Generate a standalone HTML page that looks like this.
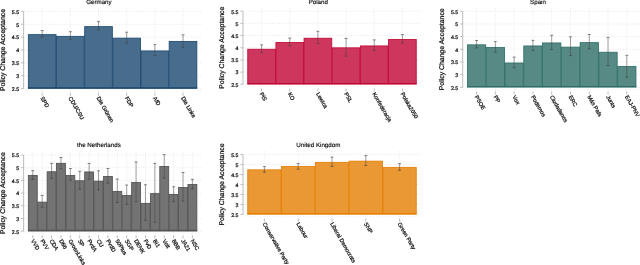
<!DOCTYPE html>
<html lang="en"><head><meta charset="utf-8"><title>Policy Change Acceptance</title>
<style>
html,body{margin:0;padding:0;background:#fff;}
body{width:640px;height:265px;overflow:hidden;}
svg{display:block;}
text{font-family:"Liberation Sans", sans-serif;fill:#000;text-rendering:geometricPrecision;stroke:#000;stroke-width:0.2px;}
</style></head><body>
<svg width="640" height="265" viewBox="0 0 640 265">
<defs><filter id="soft" filterUnits="userSpaceOnUse" x="0" y="0" width="640" height="265" color-interpolation-filters="sRGB"><feConvolveMatrix order="3" kernelMatrix="0.00027 0.01580 0.00027 0.01580 0.93575 0.01580 0.00027 0.01580 0.00027" divisor="1" edgeMode="duplicate" preserveAlpha="false"/></filter></defs>
<g filter="url(#soft)">
<rect x="0" y="0" width="640" height="265" fill="#ffffff"/>
<g><!-- Germany -->
<line x1="24.10" y1="11.40" x2="201.20" y2="11.40" stroke="#d9d9d9" stroke-width="0.7" stroke-dasharray="0.8 1.58"/>
<line x1="24.10" y1="24.27" x2="201.20" y2="24.27" stroke="#d9d9d9" stroke-width="0.7" stroke-dasharray="0.8 1.58"/>
<line x1="24.10" y1="37.13" x2="201.20" y2="37.13" stroke="#d9d9d9" stroke-width="0.7" stroke-dasharray="0.8 1.58"/>
<line x1="24.10" y1="50.00" x2="201.20" y2="50.00" stroke="#d9d9d9" stroke-width="0.7" stroke-dasharray="0.8 1.58"/>
<line x1="24.10" y1="62.87" x2="201.20" y2="62.87" stroke="#d9d9d9" stroke-width="0.7" stroke-dasharray="0.8 1.58"/>
<line x1="24.10" y1="75.73" x2="201.20" y2="75.73" stroke="#d9d9d9" stroke-width="0.7" stroke-dasharray="0.8 1.58"/>
<line x1="24.10" y1="88.60" x2="201.20" y2="88.60" stroke="#d9d9d9" stroke-width="0.7" stroke-dasharray="0.8 1.58"/>
<line x1="42.18" y1="8.10" x2="42.18" y2="91.90" stroke="#d9d9d9" stroke-width="0.7" stroke-dasharray="0.8 1.58"/>
<line x1="70.35" y1="8.10" x2="70.35" y2="91.90" stroke="#d9d9d9" stroke-width="0.7" stroke-dasharray="0.8 1.58"/>
<line x1="98.52" y1="8.10" x2="98.52" y2="91.90" stroke="#d9d9d9" stroke-width="0.7" stroke-dasharray="0.8 1.58"/>
<line x1="126.68" y1="8.10" x2="126.68" y2="91.90" stroke="#d9d9d9" stroke-width="0.7" stroke-dasharray="0.8 1.58"/>
<line x1="154.85" y1="8.10" x2="154.85" y2="91.90" stroke="#d9d9d9" stroke-width="0.7" stroke-dasharray="0.8 1.58"/>
<line x1="183.02" y1="8.10" x2="183.02" y2="91.90" stroke="#d9d9d9" stroke-width="0.7" stroke-dasharray="0.8 1.58"/>
<line x1="24.10" y1="90.70" x2="201.20" y2="90.70" stroke="#e6e6e6" stroke-width="0.7" stroke-dasharray="0.8 1.58"/>
<rect x="28.35" y="34.65" width="27.67" height="53.65" fill="#486c8c" stroke="#1a476f" stroke-width="0.85"/>
<rect x="56.52" y="36.35" width="27.67" height="51.95" fill="#486c8c" stroke="#1a476f" stroke-width="0.85"/>
<rect x="84.68" y="26.65" width="27.67" height="61.65" fill="#486c8c" stroke="#1a476f" stroke-width="0.85"/>
<rect x="112.85" y="38.15" width="27.67" height="50.15" fill="#486c8c" stroke="#1a476f" stroke-width="0.85"/>
<rect x="141.02" y="50.95" width="27.67" height="37.35" fill="#486c8c" stroke="#1a476f" stroke-width="0.85"/>
<rect x="169.18" y="41.45" width="27.67" height="46.85" fill="#486c8c" stroke="#1a476f" stroke-width="0.85"/>
<path d="M28.00 87.90H197.20" stroke="#1a476f" stroke-width="1.3" fill="none"/>
<path d="M42.18 30.60V37.10" stroke="#404040" stroke-width="0.5" fill="none"/>
<path d="M40.73 30.60H43.63M40.73 37.10H43.63" stroke="#404040" stroke-width="0.65" fill="none"/>
<path d="M70.35 31.70V39.40" stroke="#404040" stroke-width="0.5" fill="none"/>
<path d="M68.90 31.70H71.80M68.90 39.40H71.80" stroke="#404040" stroke-width="0.65" fill="none"/>
<path d="M98.52 21.60V29.90" stroke="#404040" stroke-width="0.5" fill="none"/>
<path d="M97.07 21.60H99.97M97.07 29.90H99.97" stroke="#404040" stroke-width="0.65" fill="none"/>
<path d="M126.68 32.20V43.00" stroke="#404040" stroke-width="0.5" fill="none"/>
<path d="M125.23 32.20H128.13M125.23 43.00H128.13" stroke="#404040" stroke-width="0.65" fill="none"/>
<path d="M154.85 44.60V55.70" stroke="#404040" stroke-width="0.5" fill="none"/>
<path d="M153.40 44.60H156.30M153.40 55.70H156.30" stroke="#404040" stroke-width="0.65" fill="none"/>
<path d="M183.02 34.90V47.40" stroke="#404040" stroke-width="0.5" fill="none"/>
<path d="M181.57 34.90H184.47M181.57 47.40H184.47" stroke="#404040" stroke-width="0.65" fill="none"/>
<line x1="23.60" y1="11.40" x2="23.60" y2="88.60" stroke="#b4b4b4" stroke-width="0.9"/>
<line x1="21.00" y1="11.40" x2="23.60" y2="11.40" stroke="#b4b4b4" stroke-width="0.9"/>
<text x="19.10" y="13.75" font-size="5.25" text-anchor="end">5.5</text>
<line x1="21.00" y1="24.27" x2="23.60" y2="24.27" stroke="#b4b4b4" stroke-width="0.9"/>
<text x="19.10" y="26.62" font-size="5.25" text-anchor="end">5</text>
<line x1="21.00" y1="37.13" x2="23.60" y2="37.13" stroke="#b4b4b4" stroke-width="0.9"/>
<text x="19.10" y="39.48" font-size="5.25" text-anchor="end">4.5</text>
<line x1="21.00" y1="50.00" x2="23.60" y2="50.00" stroke="#b4b4b4" stroke-width="0.9"/>
<text x="19.10" y="52.35" font-size="5.25" text-anchor="end">4</text>
<line x1="21.00" y1="62.87" x2="23.60" y2="62.87" stroke="#b4b4b4" stroke-width="0.9"/>
<text x="19.10" y="65.22" font-size="5.25" text-anchor="end">3.5</text>
<line x1="21.00" y1="75.73" x2="23.60" y2="75.73" stroke="#b4b4b4" stroke-width="0.9"/>
<text x="19.10" y="78.08" font-size="5.25" text-anchor="end">3</text>
<line x1="21.00" y1="88.60" x2="23.60" y2="88.60" stroke="#b4b4b4" stroke-width="0.9"/>
<text x="19.10" y="90.95" font-size="5.25" text-anchor="end">2.5</text>
<line x1="42.18" y1="92.70" x2="42.18" y2="95.80" stroke="#b4b4b4" stroke-width="0.9"/>
<text transform="translate(41.88 97.05) rotate(60)" x="0" y="1.95" font-size="5.6">SPD</text>
<line x1="70.35" y1="92.70" x2="70.35" y2="95.80" stroke="#b4b4b4" stroke-width="0.9"/>
<text transform="translate(70.05 97.05) rotate(60)" x="0" y="1.95" font-size="5.6">CDU/CSU</text>
<line x1="98.52" y1="92.70" x2="98.52" y2="95.80" stroke="#b4b4b4" stroke-width="0.9"/>
<text transform="translate(98.22 97.05) rotate(60)" x="0" y="1.95" font-size="5.6">Die Grünen</text>
<line x1="126.68" y1="92.70" x2="126.68" y2="95.80" stroke="#b4b4b4" stroke-width="0.9"/>
<text transform="translate(126.38 97.05) rotate(60)" x="0" y="1.95" font-size="5.6">FDP</text>
<line x1="154.85" y1="92.70" x2="154.85" y2="95.80" stroke="#b4b4b4" stroke-width="0.9"/>
<text transform="translate(154.55 97.05) rotate(60)" x="0" y="1.95" font-size="5.6">AfD</text>
<line x1="183.02" y1="92.70" x2="183.02" y2="95.80" stroke="#b4b4b4" stroke-width="0.9"/>
<text transform="translate(182.72 97.05) rotate(60)" x="0" y="1.95" font-size="5.6">Die Linke</text>
<text transform="translate(5.00 50.00) rotate(-90)" x="0" y="0" font-size="6.9" text-anchor="middle">Policy Change Acceptance</text>
<text x="98.90" y="4.35" font-size="6.2" text-anchor="middle" style="stroke-width:0.13px">Germany</text>
</g>
<g><!-- Poland -->
<line x1="243.50" y1="11.20" x2="420.60" y2="11.20" stroke="#d9d9d9" stroke-width="0.7" stroke-dasharray="0.8 1.58"/>
<line x1="243.50" y1="23.38" x2="420.60" y2="23.38" stroke="#d9d9d9" stroke-width="0.7" stroke-dasharray="0.8 1.58"/>
<line x1="243.50" y1="35.57" x2="420.60" y2="35.57" stroke="#d9d9d9" stroke-width="0.7" stroke-dasharray="0.8 1.58"/>
<line x1="243.50" y1="47.75" x2="420.60" y2="47.75" stroke="#d9d9d9" stroke-width="0.7" stroke-dasharray="0.8 1.58"/>
<line x1="243.50" y1="59.93" x2="420.60" y2="59.93" stroke="#d9d9d9" stroke-width="0.7" stroke-dasharray="0.8 1.58"/>
<line x1="243.50" y1="72.12" x2="420.60" y2="72.12" stroke="#d9d9d9" stroke-width="0.7" stroke-dasharray="0.8 1.58"/>
<line x1="243.50" y1="84.30" x2="420.60" y2="84.30" stroke="#d9d9d9" stroke-width="0.7" stroke-dasharray="0.8 1.58"/>
<line x1="261.58" y1="7.90" x2="261.58" y2="87.60" stroke="#d9d9d9" stroke-width="0.7" stroke-dasharray="0.8 1.58"/>
<line x1="289.75" y1="7.90" x2="289.75" y2="87.60" stroke="#d9d9d9" stroke-width="0.7" stroke-dasharray="0.8 1.58"/>
<line x1="317.92" y1="7.90" x2="317.92" y2="87.60" stroke="#d9d9d9" stroke-width="0.7" stroke-dasharray="0.8 1.58"/>
<line x1="346.08" y1="7.90" x2="346.08" y2="87.60" stroke="#d9d9d9" stroke-width="0.7" stroke-dasharray="0.8 1.58"/>
<line x1="374.25" y1="7.90" x2="374.25" y2="87.60" stroke="#d9d9d9" stroke-width="0.7" stroke-dasharray="0.8 1.58"/>
<line x1="402.42" y1="7.90" x2="402.42" y2="87.60" stroke="#d9d9d9" stroke-width="0.7" stroke-dasharray="0.8 1.58"/>
<line x1="243.50" y1="86.40" x2="420.60" y2="86.40" stroke="#e6e6e6" stroke-width="0.7" stroke-dasharray="0.8 1.58"/>
<rect x="247.75" y="49.25" width="27.67" height="34.75" fill="#cd375d" stroke="#c10534" stroke-width="0.85"/>
<rect x="275.92" y="42.45" width="27.67" height="41.55" fill="#cd375d" stroke="#c10534" stroke-width="0.85"/>
<rect x="304.08" y="38.25" width="27.67" height="45.75" fill="#cd375d" stroke="#c10534" stroke-width="0.85"/>
<rect x="332.25" y="47.85" width="27.67" height="36.15" fill="#cd375d" stroke="#c10534" stroke-width="0.85"/>
<rect x="360.42" y="45.95" width="27.67" height="38.05" fill="#cd375d" stroke="#c10534" stroke-width="0.85"/>
<rect x="388.58" y="39.45" width="27.67" height="44.55" fill="#cd375d" stroke="#c10534" stroke-width="0.85"/>
<path d="M247.40 83.60H416.60" stroke="#c10534" stroke-width="1.3" fill="none"/>
<path d="M261.58 44.90V52.50" stroke="#404040" stroke-width="0.5" fill="none"/>
<path d="M260.13 44.90H263.03M260.13 52.50H263.03" stroke="#404040" stroke-width="0.65" fill="none"/>
<path d="M289.75 38.10V45.70" stroke="#404040" stroke-width="0.5" fill="none"/>
<path d="M288.30 38.10H291.20M288.30 45.70H291.20" stroke="#404040" stroke-width="0.65" fill="none"/>
<path d="M317.92 31.30V43.70" stroke="#404040" stroke-width="0.5" fill="none"/>
<path d="M316.47 31.30H319.37M316.47 43.70H319.37" stroke="#404040" stroke-width="0.65" fill="none"/>
<path d="M346.08 38.40V56.20" stroke="#404040" stroke-width="0.5" fill="none"/>
<path d="M344.63 38.40H347.53M344.63 56.20H347.53" stroke="#404040" stroke-width="0.65" fill="none"/>
<path d="M374.25 39.90V50.60" stroke="#404040" stroke-width="0.5" fill="none"/>
<path d="M372.80 39.90H375.70M372.80 50.60H375.70" stroke="#404040" stroke-width="0.65" fill="none"/>
<path d="M402.42 34.60V42.90" stroke="#404040" stroke-width="0.5" fill="none"/>
<path d="M400.97 34.60H403.87M400.97 42.90H403.87" stroke="#404040" stroke-width="0.65" fill="none"/>
<line x1="243.00" y1="11.20" x2="243.00" y2="84.30" stroke="#b4b4b4" stroke-width="0.9"/>
<line x1="240.40" y1="11.20" x2="243.00" y2="11.20" stroke="#b4b4b4" stroke-width="0.9"/>
<text x="238.50" y="13.55" font-size="5.25" text-anchor="end">5.5</text>
<line x1="240.40" y1="23.38" x2="243.00" y2="23.38" stroke="#b4b4b4" stroke-width="0.9"/>
<text x="238.50" y="25.73" font-size="5.25" text-anchor="end">5</text>
<line x1="240.40" y1="35.57" x2="243.00" y2="35.57" stroke="#b4b4b4" stroke-width="0.9"/>
<text x="238.50" y="37.92" font-size="5.25" text-anchor="end">4.5</text>
<line x1="240.40" y1="47.75" x2="243.00" y2="47.75" stroke="#b4b4b4" stroke-width="0.9"/>
<text x="238.50" y="50.10" font-size="5.25" text-anchor="end">4</text>
<line x1="240.40" y1="59.93" x2="243.00" y2="59.93" stroke="#b4b4b4" stroke-width="0.9"/>
<text x="238.50" y="62.28" font-size="5.25" text-anchor="end">3.5</text>
<line x1="240.40" y1="72.12" x2="243.00" y2="72.12" stroke="#b4b4b4" stroke-width="0.9"/>
<text x="238.50" y="74.47" font-size="5.25" text-anchor="end">3</text>
<line x1="240.40" y1="84.30" x2="243.00" y2="84.30" stroke="#b4b4b4" stroke-width="0.9"/>
<text x="238.50" y="86.65" font-size="5.25" text-anchor="end">2.5</text>
<line x1="261.58" y1="88.40" x2="261.58" y2="91.50" stroke="#b4b4b4" stroke-width="0.9"/>
<text transform="translate(261.28 92.75) rotate(60)" x="0" y="1.95" font-size="5.6">PiS</text>
<line x1="289.75" y1="88.40" x2="289.75" y2="91.50" stroke="#b4b4b4" stroke-width="0.9"/>
<text transform="translate(289.45 92.75) rotate(60)" x="0" y="1.95" font-size="5.6">KO</text>
<line x1="317.92" y1="88.40" x2="317.92" y2="91.50" stroke="#b4b4b4" stroke-width="0.9"/>
<text transform="translate(317.62 92.75) rotate(60)" x="0" y="1.95" font-size="5.6">Lewica</text>
<line x1="346.08" y1="88.40" x2="346.08" y2="91.50" stroke="#b4b4b4" stroke-width="0.9"/>
<text transform="translate(345.78 92.75) rotate(60)" x="0" y="1.95" font-size="5.6">PSL</text>
<line x1="374.25" y1="88.40" x2="374.25" y2="91.50" stroke="#b4b4b4" stroke-width="0.9"/>
<text transform="translate(373.95 92.75) rotate(60)" x="0" y="1.95" font-size="5.6">Konfederacja</text>
<line x1="402.42" y1="88.40" x2="402.42" y2="91.50" stroke="#b4b4b4" stroke-width="0.9"/>
<text transform="translate(402.12 92.75) rotate(60)" x="0" y="1.95" font-size="5.6">Polska2050</text>
<text transform="translate(224.40 47.75) rotate(-90)" x="0" y="0" font-size="6.9" text-anchor="middle">Policy Change Acceptance</text>
<text x="318.30" y="4.35" font-size="6.2" text-anchor="middle" style="stroke-width:0.13px">Poland</text>
</g>
<g><!-- Spain -->
<line x1="463.20" y1="11.30" x2="640.30" y2="11.30" stroke="#d9d9d9" stroke-width="0.7" stroke-dasharray="0.8 1.58"/>
<line x1="463.20" y1="23.97" x2="640.30" y2="23.97" stroke="#d9d9d9" stroke-width="0.7" stroke-dasharray="0.8 1.58"/>
<line x1="463.20" y1="36.63" x2="640.30" y2="36.63" stroke="#d9d9d9" stroke-width="0.7" stroke-dasharray="0.8 1.58"/>
<line x1="463.20" y1="49.30" x2="640.30" y2="49.30" stroke="#d9d9d9" stroke-width="0.7" stroke-dasharray="0.8 1.58"/>
<line x1="463.20" y1="61.97" x2="640.30" y2="61.97" stroke="#d9d9d9" stroke-width="0.7" stroke-dasharray="0.8 1.58"/>
<line x1="463.20" y1="74.63" x2="640.30" y2="74.63" stroke="#d9d9d9" stroke-width="0.7" stroke-dasharray="0.8 1.58"/>
<line x1="463.20" y1="87.30" x2="640.30" y2="87.30" stroke="#d9d9d9" stroke-width="0.7" stroke-dasharray="0.8 1.58"/>
<line x1="476.59" y1="8.00" x2="476.59" y2="90.60" stroke="#d9d9d9" stroke-width="0.7" stroke-dasharray="0.8 1.58"/>
<line x1="495.37" y1="8.00" x2="495.37" y2="90.60" stroke="#d9d9d9" stroke-width="0.7" stroke-dasharray="0.8 1.58"/>
<line x1="514.14" y1="8.00" x2="514.14" y2="90.60" stroke="#d9d9d9" stroke-width="0.7" stroke-dasharray="0.8 1.58"/>
<line x1="532.92" y1="8.00" x2="532.92" y2="90.60" stroke="#d9d9d9" stroke-width="0.7" stroke-dasharray="0.8 1.58"/>
<line x1="551.70" y1="8.00" x2="551.70" y2="90.60" stroke="#d9d9d9" stroke-width="0.7" stroke-dasharray="0.8 1.58"/>
<line x1="570.48" y1="8.00" x2="570.48" y2="90.60" stroke="#d9d9d9" stroke-width="0.7" stroke-dasharray="0.8 1.58"/>
<line x1="589.26" y1="8.00" x2="589.26" y2="90.60" stroke="#d9d9d9" stroke-width="0.7" stroke-dasharray="0.8 1.58"/>
<line x1="608.03" y1="8.00" x2="608.03" y2="90.60" stroke="#d9d9d9" stroke-width="0.7" stroke-dasharray="0.8 1.58"/>
<line x1="626.81" y1="8.00" x2="626.81" y2="90.60" stroke="#d9d9d9" stroke-width="0.7" stroke-dasharray="0.8 1.58"/>
<line x1="463.20" y1="89.40" x2="640.30" y2="89.40" stroke="#e6e6e6" stroke-width="0.7" stroke-dasharray="0.8 1.58"/>
<rect x="467.45" y="44.85" width="18.28" height="42.15" fill="#578a85" stroke="#2d6d66" stroke-width="0.85"/>
<rect x="486.23" y="47.55" width="18.28" height="39.45" fill="#578a85" stroke="#2d6d66" stroke-width="0.85"/>
<rect x="505.01" y="63.00" width="18.28" height="24.00" fill="#578a85" stroke="#2d6d66" stroke-width="0.85"/>
<rect x="523.78" y="45.95" width="18.28" height="41.05" fill="#578a85" stroke="#2d6d66" stroke-width="0.85"/>
<rect x="542.56" y="42.95" width="18.28" height="44.05" fill="#578a85" stroke="#2d6d66" stroke-width="0.85"/>
<rect x="561.34" y="47.15" width="18.28" height="39.85" fill="#578a85" stroke="#2d6d66" stroke-width="0.85"/>
<rect x="580.12" y="42.65" width="18.28" height="44.35" fill="#578a85" stroke="#2d6d66" stroke-width="0.85"/>
<rect x="598.89" y="52.25" width="18.28" height="34.75" fill="#578a85" stroke="#2d6d66" stroke-width="0.85"/>
<rect x="617.67" y="66.55" width="18.28" height="20.45" fill="#578a85" stroke="#2d6d66" stroke-width="0.85"/>
<path d="M467.10 86.60H636.30" stroke="#2d6d66" stroke-width="1.3" fill="none"/>
<path d="M476.59 40.50V47.90" stroke="#404040" stroke-width="0.5" fill="none"/>
<path d="M475.14 40.50H478.04M475.14 47.90H478.04" stroke="#404040" stroke-width="0.65" fill="none"/>
<path d="M495.37 41.60V52.20" stroke="#404040" stroke-width="0.5" fill="none"/>
<path d="M493.92 41.60H496.82M493.92 52.20H496.82" stroke="#404040" stroke-width="0.65" fill="none"/>
<path d="M514.14 57.10V67.75" stroke="#404040" stroke-width="0.5" fill="none"/>
<path d="M512.69 57.10H515.59M512.69 67.75H515.59" stroke="#404040" stroke-width="0.65" fill="none"/>
<path d="M532.92 40.40V50.40" stroke="#404040" stroke-width="0.5" fill="none"/>
<path d="M531.47 40.40H534.37M531.47 50.40H534.37" stroke="#404040" stroke-width="0.65" fill="none"/>
<path d="M551.70 35.30V49.50" stroke="#404040" stroke-width="0.5" fill="none"/>
<path d="M550.25 35.30H553.15M550.25 49.50H553.15" stroke="#404040" stroke-width="0.65" fill="none"/>
<path d="M570.48 36.90V55.60" stroke="#404040" stroke-width="0.5" fill="none"/>
<path d="M569.03 36.90H571.93M569.03 55.60H571.93" stroke="#404040" stroke-width="0.65" fill="none"/>
<path d="M589.26 34.50V48.80" stroke="#404040" stroke-width="0.5" fill="none"/>
<path d="M587.81 34.50H590.71M587.81 48.80H590.71" stroke="#404040" stroke-width="0.65" fill="none"/>
<path d="M608.03 37.40V65.50" stroke="#404040" stroke-width="0.5" fill="none"/>
<path d="M606.58 37.40H609.48M606.58 65.50H609.48" stroke="#404040" stroke-width="0.65" fill="none"/>
<path d="M626.81 55.30V77.20" stroke="#404040" stroke-width="0.5" fill="none"/>
<path d="M625.36 55.30H628.26M625.36 77.20H628.26" stroke="#404040" stroke-width="0.65" fill="none"/>
<line x1="462.70" y1="11.30" x2="462.70" y2="87.30" stroke="#b4b4b4" stroke-width="0.9"/>
<line x1="460.10" y1="11.30" x2="462.70" y2="11.30" stroke="#b4b4b4" stroke-width="0.9"/>
<text x="458.20" y="13.65" font-size="5.25" text-anchor="end">5.5</text>
<line x1="460.10" y1="23.97" x2="462.70" y2="23.97" stroke="#b4b4b4" stroke-width="0.9"/>
<text x="458.20" y="26.32" font-size="5.25" text-anchor="end">5</text>
<line x1="460.10" y1="36.63" x2="462.70" y2="36.63" stroke="#b4b4b4" stroke-width="0.9"/>
<text x="458.20" y="38.98" font-size="5.25" text-anchor="end">4.5</text>
<line x1="460.10" y1="49.30" x2="462.70" y2="49.30" stroke="#b4b4b4" stroke-width="0.9"/>
<text x="458.20" y="51.65" font-size="5.25" text-anchor="end">4</text>
<line x1="460.10" y1="61.97" x2="462.70" y2="61.97" stroke="#b4b4b4" stroke-width="0.9"/>
<text x="458.20" y="64.32" font-size="5.25" text-anchor="end">3.5</text>
<line x1="460.10" y1="74.63" x2="462.70" y2="74.63" stroke="#b4b4b4" stroke-width="0.9"/>
<text x="458.20" y="76.98" font-size="5.25" text-anchor="end">3</text>
<line x1="460.10" y1="87.30" x2="462.70" y2="87.30" stroke="#b4b4b4" stroke-width="0.9"/>
<text x="458.20" y="89.65" font-size="5.25" text-anchor="end">2.5</text>
<line x1="476.59" y1="91.40" x2="476.59" y2="94.50" stroke="#b4b4b4" stroke-width="0.9"/>
<text transform="translate(476.29 95.75) rotate(60)" x="0" y="1.95" font-size="5.6">PSOE</text>
<line x1="495.37" y1="91.40" x2="495.37" y2="94.50" stroke="#b4b4b4" stroke-width="0.9"/>
<text transform="translate(495.07 95.75) rotate(60)" x="0" y="1.95" font-size="5.6">PP</text>
<line x1="514.14" y1="91.40" x2="514.14" y2="94.50" stroke="#b4b4b4" stroke-width="0.9"/>
<text transform="translate(513.84 95.75) rotate(60)" x="0" y="1.95" font-size="5.6">Vox</text>
<line x1="532.92" y1="91.40" x2="532.92" y2="94.50" stroke="#b4b4b4" stroke-width="0.9"/>
<text transform="translate(532.62 95.75) rotate(60)" x="0" y="1.95" font-size="5.6">Podemos</text>
<line x1="551.70" y1="91.40" x2="551.70" y2="94.50" stroke="#b4b4b4" stroke-width="0.9"/>
<text transform="translate(551.40 95.75) rotate(60)" x="0" y="1.95" font-size="5.6">Ciudadanos</text>
<line x1="570.48" y1="91.40" x2="570.48" y2="94.50" stroke="#b4b4b4" stroke-width="0.9"/>
<text transform="translate(570.18 95.75) rotate(60)" x="0" y="1.95" font-size="5.6">ERC</text>
<line x1="589.26" y1="91.40" x2="589.26" y2="94.50" stroke="#b4b4b4" stroke-width="0.9"/>
<text transform="translate(588.96 95.75) rotate(60)" x="0" y="1.95" font-size="5.6">Más País</text>
<line x1="608.03" y1="91.40" x2="608.03" y2="94.50" stroke="#b4b4b4" stroke-width="0.9"/>
<text transform="translate(607.73 95.75) rotate(60)" x="0" y="1.95" font-size="5.6">Junts</text>
<line x1="626.81" y1="91.40" x2="626.81" y2="94.50" stroke="#b4b4b4" stroke-width="0.9"/>
<text transform="translate(626.51 95.75) rotate(60)" x="0" y="1.95" font-size="5.6">EAJ-PNV</text>
<text transform="translate(444.10 49.30) rotate(-90)" x="0" y="0" font-size="6.9" text-anchor="middle">Policy Change Acceptance</text>
<text x="538.00" y="4.35" font-size="6.2" text-anchor="middle" style="stroke-width:0.13px">Spain</text>
</g>
<g><!-- the Netherlands -->
<line x1="24.10" y1="155.00" x2="201.20" y2="155.00" stroke="#d9d9d9" stroke-width="0.7" stroke-dasharray="0.8 1.58"/>
<line x1="24.10" y1="167.70" x2="201.20" y2="167.70" stroke="#d9d9d9" stroke-width="0.7" stroke-dasharray="0.8 1.58"/>
<line x1="24.10" y1="180.40" x2="201.20" y2="180.40" stroke="#d9d9d9" stroke-width="0.7" stroke-dasharray="0.8 1.58"/>
<line x1="24.10" y1="193.10" x2="201.20" y2="193.10" stroke="#d9d9d9" stroke-width="0.7" stroke-dasharray="0.8 1.58"/>
<line x1="24.10" y1="205.80" x2="201.20" y2="205.80" stroke="#d9d9d9" stroke-width="0.7" stroke-dasharray="0.8 1.58"/>
<line x1="24.10" y1="218.50" x2="201.20" y2="218.50" stroke="#d9d9d9" stroke-width="0.7" stroke-dasharray="0.8 1.58"/>
<line x1="24.10" y1="231.20" x2="201.20" y2="231.20" stroke="#d9d9d9" stroke-width="0.7" stroke-dasharray="0.8 1.58"/>
<line x1="32.79" y1="151.70" x2="32.79" y2="234.50" stroke="#d9d9d9" stroke-width="0.7" stroke-dasharray="0.8 1.58"/>
<line x1="42.18" y1="151.70" x2="42.18" y2="234.50" stroke="#d9d9d9" stroke-width="0.7" stroke-dasharray="0.8 1.58"/>
<line x1="51.57" y1="151.70" x2="51.57" y2="234.50" stroke="#d9d9d9" stroke-width="0.7" stroke-dasharray="0.8 1.58"/>
<line x1="60.96" y1="151.70" x2="60.96" y2="234.50" stroke="#d9d9d9" stroke-width="0.7" stroke-dasharray="0.8 1.58"/>
<line x1="70.35" y1="151.70" x2="70.35" y2="234.50" stroke="#d9d9d9" stroke-width="0.7" stroke-dasharray="0.8 1.58"/>
<line x1="79.74" y1="151.70" x2="79.74" y2="234.50" stroke="#d9d9d9" stroke-width="0.7" stroke-dasharray="0.8 1.58"/>
<line x1="89.13" y1="151.70" x2="89.13" y2="234.50" stroke="#d9d9d9" stroke-width="0.7" stroke-dasharray="0.8 1.58"/>
<line x1="98.52" y1="151.70" x2="98.52" y2="234.50" stroke="#d9d9d9" stroke-width="0.7" stroke-dasharray="0.8 1.58"/>
<line x1="107.91" y1="151.70" x2="107.91" y2="234.50" stroke="#d9d9d9" stroke-width="0.7" stroke-dasharray="0.8 1.58"/>
<line x1="117.29" y1="151.70" x2="117.29" y2="234.50" stroke="#d9d9d9" stroke-width="0.7" stroke-dasharray="0.8 1.58"/>
<line x1="126.68" y1="151.70" x2="126.68" y2="234.50" stroke="#d9d9d9" stroke-width="0.7" stroke-dasharray="0.8 1.58"/>
<line x1="136.07" y1="151.70" x2="136.07" y2="234.50" stroke="#d9d9d9" stroke-width="0.7" stroke-dasharray="0.8 1.58"/>
<line x1="145.46" y1="151.70" x2="145.46" y2="234.50" stroke="#d9d9d9" stroke-width="0.7" stroke-dasharray="0.8 1.58"/>
<line x1="154.85" y1="151.70" x2="154.85" y2="234.50" stroke="#d9d9d9" stroke-width="0.7" stroke-dasharray="0.8 1.58"/>
<line x1="164.24" y1="151.70" x2="164.24" y2="234.50" stroke="#d9d9d9" stroke-width="0.7" stroke-dasharray="0.8 1.58"/>
<line x1="173.63" y1="151.70" x2="173.63" y2="234.50" stroke="#d9d9d9" stroke-width="0.7" stroke-dasharray="0.8 1.58"/>
<line x1="183.02" y1="151.70" x2="183.02" y2="234.50" stroke="#d9d9d9" stroke-width="0.7" stroke-dasharray="0.8 1.58"/>
<line x1="192.41" y1="151.70" x2="192.41" y2="234.50" stroke="#d9d9d9" stroke-width="0.7" stroke-dasharray="0.8 1.58"/>
<line x1="24.10" y1="233.30" x2="201.20" y2="233.30" stroke="#e6e6e6" stroke-width="0.7" stroke-dasharray="0.8 1.58"/>
<rect x="28.35" y="175.50" width="8.89" height="55.40" fill="#737373" stroke="#505050" stroke-width="0.85"/>
<rect x="37.74" y="202.15" width="8.89" height="28.75" fill="#737373" stroke="#505050" stroke-width="0.85"/>
<rect x="47.13" y="171.75" width="8.89" height="59.15" fill="#737373" stroke="#505050" stroke-width="0.85"/>
<rect x="56.52" y="163.35" width="8.89" height="67.55" fill="#737373" stroke="#505050" stroke-width="0.85"/>
<rect x="65.91" y="175.50" width="8.89" height="55.40" fill="#737373" stroke="#505050" stroke-width="0.85"/>
<rect x="75.29" y="180.75" width="8.89" height="50.15" fill="#737373" stroke="#505050" stroke-width="0.85"/>
<rect x="84.68" y="171.95" width="8.89" height="58.95" fill="#737373" stroke="#505050" stroke-width="0.85"/>
<rect x="94.07" y="181.15" width="8.89" height="49.75" fill="#737373" stroke="#505050" stroke-width="0.85"/>
<rect x="103.46" y="176.50" width="8.89" height="54.40" fill="#737373" stroke="#505050" stroke-width="0.85"/>
<rect x="112.85" y="191.50" width="8.89" height="39.40" fill="#737373" stroke="#505050" stroke-width="0.85"/>
<rect x="122.24" y="195.50" width="8.89" height="35.40" fill="#737373" stroke="#505050" stroke-width="0.85"/>
<rect x="131.63" y="182.50" width="8.89" height="48.40" fill="#737373" stroke="#505050" stroke-width="0.85"/>
<rect x="141.02" y="203.35" width="8.89" height="27.55" fill="#737373" stroke="#505050" stroke-width="0.85"/>
<rect x="150.41" y="193.65" width="8.89" height="37.25" fill="#737373" stroke="#505050" stroke-width="0.85"/>
<rect x="159.79" y="166.50" width="8.89" height="64.40" fill="#737373" stroke="#505050" stroke-width="0.85"/>
<rect x="169.18" y="194.50" width="8.89" height="36.40" fill="#737373" stroke="#505050" stroke-width="0.85"/>
<rect x="178.57" y="187.50" width="8.89" height="43.40" fill="#737373" stroke="#505050" stroke-width="0.85"/>
<rect x="187.96" y="184.50" width="8.89" height="46.40" fill="#737373" stroke="#505050" stroke-width="0.85"/>
<path d="M28.00 230.50H197.20" stroke="#505050" stroke-width="1.3" fill="none"/>
<path d="M32.79 170.60V179.40" stroke="#404040" stroke-width="0.5" fill="none"/>
<path d="M31.34 170.60H34.24M31.34 179.40H34.24" stroke="#404040" stroke-width="0.65" fill="none"/>
<path d="M42.18 195.40V207.25" stroke="#404040" stroke-width="0.5" fill="none"/>
<path d="M40.73 195.40H43.63M40.73 207.25H43.63" stroke="#404040" stroke-width="0.65" fill="none"/>
<path d="M51.57 163.40V178.50" stroke="#404040" stroke-width="0.5" fill="none"/>
<path d="M50.12 163.40H53.02M50.12 178.50H53.02" stroke="#404040" stroke-width="0.65" fill="none"/>
<path d="M60.96 157.50V168.75" stroke="#404040" stroke-width="0.5" fill="none"/>
<path d="M59.51 157.50H62.41M59.51 168.75H62.41" stroke="#404040" stroke-width="0.65" fill="none"/>
<path d="M70.35 168.50V180.25" stroke="#404040" stroke-width="0.5" fill="none"/>
<path d="M68.90 168.50H71.80M68.90 180.25H71.80" stroke="#404040" stroke-width="0.65" fill="none"/>
<path d="M79.74 171.25V189.40" stroke="#404040" stroke-width="0.5" fill="none"/>
<path d="M78.29 171.25H81.19M78.29 189.40H81.19" stroke="#404040" stroke-width="0.65" fill="none"/>
<path d="M89.13 163.40V179.20" stroke="#404040" stroke-width="0.5" fill="none"/>
<path d="M87.68 163.40H90.58M87.68 179.20H90.58" stroke="#404040" stroke-width="0.65" fill="none"/>
<path d="M98.52 170.80V190.00" stroke="#404040" stroke-width="0.5" fill="none"/>
<path d="M97.07 170.80H99.97M97.07 190.00H99.97" stroke="#404040" stroke-width="0.65" fill="none"/>
<path d="M107.91 168.50V183.10" stroke="#404040" stroke-width="0.5" fill="none"/>
<path d="M106.46 168.50H109.36M106.46 183.10H109.36" stroke="#404040" stroke-width="0.65" fill="none"/>
<path d="M117.29 179.00V202.50" stroke="#404040" stroke-width="0.5" fill="none"/>
<path d="M115.84 179.00H118.74M115.84 202.50H118.74" stroke="#404040" stroke-width="0.65" fill="none"/>
<path d="M126.68 185.00V204.40" stroke="#404040" stroke-width="0.5" fill="none"/>
<path d="M125.23 185.00H128.13M125.23 204.40H128.13" stroke="#404040" stroke-width="0.65" fill="none"/>
<path d="M136.07 161.90V201.60" stroke="#404040" stroke-width="0.5" fill="none"/>
<path d="M134.62 161.90H137.52M134.62 201.60H137.52" stroke="#404040" stroke-width="0.65" fill="none"/>
<path d="M145.46 184.75V220.40" stroke="#404040" stroke-width="0.5" fill="none"/>
<path d="M144.01 184.75H146.91M144.01 220.40H146.91" stroke="#404040" stroke-width="0.65" fill="none"/>
<path d="M154.85 163.40V222.25" stroke="#404040" stroke-width="0.5" fill="none"/>
<path d="M153.40 163.40H156.30M153.40 222.25H156.30" stroke="#404040" stroke-width="0.65" fill="none"/>
<path d="M164.24 154.60V178.10" stroke="#404040" stroke-width="0.5" fill="none"/>
<path d="M162.79 154.60H165.69M162.79 178.10H165.69" stroke="#404040" stroke-width="0.65" fill="none"/>
<path d="M173.63 186.75V201.40" stroke="#404040" stroke-width="0.5" fill="none"/>
<path d="M172.18 186.75H175.08M172.18 201.40H175.08" stroke="#404040" stroke-width="0.65" fill="none"/>
<path d="M183.02 172.50V201.10" stroke="#404040" stroke-width="0.5" fill="none"/>
<path d="M181.57 172.50H184.47M181.57 201.10H184.47" stroke="#404040" stroke-width="0.65" fill="none"/>
<path d="M192.41 179.40V188.90" stroke="#404040" stroke-width="0.5" fill="none"/>
<path d="M190.96 179.40H193.86M190.96 188.90H193.86" stroke="#404040" stroke-width="0.65" fill="none"/>
<line x1="23.60" y1="155.00" x2="23.60" y2="231.20" stroke="#b4b4b4" stroke-width="0.9"/>
<line x1="21.00" y1="155.00" x2="23.60" y2="155.00" stroke="#b4b4b4" stroke-width="0.9"/>
<text x="19.10" y="157.35" font-size="5.25" text-anchor="end">5.5</text>
<line x1="21.00" y1="167.70" x2="23.60" y2="167.70" stroke="#b4b4b4" stroke-width="0.9"/>
<text x="19.10" y="170.05" font-size="5.25" text-anchor="end">5</text>
<line x1="21.00" y1="180.40" x2="23.60" y2="180.40" stroke="#b4b4b4" stroke-width="0.9"/>
<text x="19.10" y="182.75" font-size="5.25" text-anchor="end">4.5</text>
<line x1="21.00" y1="193.10" x2="23.60" y2="193.10" stroke="#b4b4b4" stroke-width="0.9"/>
<text x="19.10" y="195.45" font-size="5.25" text-anchor="end">4</text>
<line x1="21.00" y1="205.80" x2="23.60" y2="205.80" stroke="#b4b4b4" stroke-width="0.9"/>
<text x="19.10" y="208.15" font-size="5.25" text-anchor="end">3.5</text>
<line x1="21.00" y1="218.50" x2="23.60" y2="218.50" stroke="#b4b4b4" stroke-width="0.9"/>
<text x="19.10" y="220.85" font-size="5.25" text-anchor="end">3</text>
<line x1="21.00" y1="231.20" x2="23.60" y2="231.20" stroke="#b4b4b4" stroke-width="0.9"/>
<text x="19.10" y="233.55" font-size="5.25" text-anchor="end">2.5</text>
<line x1="32.79" y1="235.30" x2="32.79" y2="238.40" stroke="#b4b4b4" stroke-width="0.9"/>
<text transform="translate(32.49 239.65) rotate(60)" x="0" y="1.95" font-size="5.6">VVD</text>
<line x1="42.18" y1="235.30" x2="42.18" y2="238.40" stroke="#b4b4b4" stroke-width="0.9"/>
<text transform="translate(41.88 239.65) rotate(60)" x="0" y="1.95" font-size="5.6">PVV</text>
<line x1="51.57" y1="235.30" x2="51.57" y2="238.40" stroke="#b4b4b4" stroke-width="0.9"/>
<text transform="translate(51.27 239.65) rotate(60)" x="0" y="1.95" font-size="5.6">CDA</text>
<line x1="60.96" y1="235.30" x2="60.96" y2="238.40" stroke="#b4b4b4" stroke-width="0.9"/>
<text transform="translate(60.66 239.65) rotate(60)" x="0" y="1.95" font-size="5.6">D66</text>
<line x1="70.35" y1="235.30" x2="70.35" y2="238.40" stroke="#b4b4b4" stroke-width="0.9"/>
<text transform="translate(70.05 239.65) rotate(60)" x="0" y="1.95" font-size="5.6">GroenLinks</text>
<line x1="79.74" y1="235.30" x2="79.74" y2="238.40" stroke="#b4b4b4" stroke-width="0.9"/>
<text transform="translate(79.44 239.65) rotate(60)" x="0" y="1.95" font-size="5.6">SP</text>
<line x1="89.13" y1="235.30" x2="89.13" y2="238.40" stroke="#b4b4b4" stroke-width="0.9"/>
<text transform="translate(88.83 239.65) rotate(60)" x="0" y="1.95" font-size="5.6">PvdA</text>
<line x1="98.52" y1="235.30" x2="98.52" y2="238.40" stroke="#b4b4b4" stroke-width="0.9"/>
<text transform="translate(98.22 239.65) rotate(60)" x="0" y="1.95" font-size="5.6">CU</text>
<line x1="107.91" y1="235.30" x2="107.91" y2="238.40" stroke="#b4b4b4" stroke-width="0.9"/>
<text transform="translate(107.61 239.65) rotate(60)" x="0" y="1.95" font-size="5.6">PvdD</text>
<line x1="117.29" y1="235.30" x2="117.29" y2="238.40" stroke="#b4b4b4" stroke-width="0.9"/>
<text transform="translate(116.99 239.65) rotate(60)" x="0" y="1.95" font-size="5.6">50Plus</text>
<line x1="126.68" y1="235.30" x2="126.68" y2="238.40" stroke="#b4b4b4" stroke-width="0.9"/>
<text transform="translate(126.38 239.65) rotate(60)" x="0" y="1.95" font-size="5.6">SGP</text>
<line x1="136.07" y1="235.30" x2="136.07" y2="238.40" stroke="#b4b4b4" stroke-width="0.9"/>
<text transform="translate(135.77 239.65) rotate(60)" x="0" y="1.95" font-size="5.6">DENK</text>
<line x1="145.46" y1="235.30" x2="145.46" y2="238.40" stroke="#b4b4b4" stroke-width="0.9"/>
<text transform="translate(145.16 239.65) rotate(60)" x="0" y="1.95" font-size="5.6">FvD</text>
<line x1="154.85" y1="235.30" x2="154.85" y2="238.40" stroke="#b4b4b4" stroke-width="0.9"/>
<text transform="translate(154.55 239.65) rotate(60)" x="0" y="1.95" font-size="5.6">BI1</text>
<line x1="164.24" y1="235.30" x2="164.24" y2="238.40" stroke="#b4b4b4" stroke-width="0.9"/>
<text transform="translate(163.94 239.65) rotate(60)" x="0" y="1.95" font-size="5.6">Volt</text>
<line x1="173.63" y1="235.30" x2="173.63" y2="238.40" stroke="#b4b4b4" stroke-width="0.9"/>
<text transform="translate(173.33 239.65) rotate(60)" x="0" y="1.95" font-size="5.6">BBB</text>
<line x1="183.02" y1="235.30" x2="183.02" y2="238.40" stroke="#b4b4b4" stroke-width="0.9"/>
<text transform="translate(182.72 239.65) rotate(60)" x="0" y="1.95" font-size="5.6">JA21</text>
<line x1="192.41" y1="235.30" x2="192.41" y2="238.40" stroke="#b4b4b4" stroke-width="0.9"/>
<text transform="translate(192.11 239.65) rotate(60)" x="0" y="1.95" font-size="5.6">NSC</text>
<text transform="translate(5.00 193.10) rotate(-90)" x="0" y="0" font-size="6.9" text-anchor="middle">Policy Change Acceptance</text>
<text x="98.90" y="147.25" font-size="6.2" text-anchor="middle" style="stroke-width:0.13px">the Netherlands</text>
</g>
<g><!-- United Kingdom -->
<line x1="243.50" y1="154.60" x2="420.60" y2="154.60" stroke="#d9d9d9" stroke-width="0.7" stroke-dasharray="0.8 1.58"/>
<line x1="243.50" y1="164.57" x2="420.60" y2="164.57" stroke="#d9d9d9" stroke-width="0.7" stroke-dasharray="0.8 1.58"/>
<line x1="243.50" y1="174.53" x2="420.60" y2="174.53" stroke="#d9d9d9" stroke-width="0.7" stroke-dasharray="0.8 1.58"/>
<line x1="243.50" y1="184.50" x2="420.60" y2="184.50" stroke="#d9d9d9" stroke-width="0.7" stroke-dasharray="0.8 1.58"/>
<line x1="243.50" y1="194.47" x2="420.60" y2="194.47" stroke="#d9d9d9" stroke-width="0.7" stroke-dasharray="0.8 1.58"/>
<line x1="243.50" y1="204.43" x2="420.60" y2="204.43" stroke="#d9d9d9" stroke-width="0.7" stroke-dasharray="0.8 1.58"/>
<line x1="243.50" y1="214.40" x2="420.60" y2="214.40" stroke="#d9d9d9" stroke-width="0.7" stroke-dasharray="0.8 1.58"/>
<line x1="264.40" y1="151.30" x2="264.40" y2="217.70" stroke="#d9d9d9" stroke-width="0.7" stroke-dasharray="0.8 1.58"/>
<line x1="298.20" y1="151.30" x2="298.20" y2="217.70" stroke="#d9d9d9" stroke-width="0.7" stroke-dasharray="0.8 1.58"/>
<line x1="332.00" y1="151.30" x2="332.00" y2="217.70" stroke="#d9d9d9" stroke-width="0.7" stroke-dasharray="0.8 1.58"/>
<line x1="365.80" y1="151.30" x2="365.80" y2="217.70" stroke="#d9d9d9" stroke-width="0.7" stroke-dasharray="0.8 1.58"/>
<line x1="399.60" y1="151.30" x2="399.60" y2="217.70" stroke="#d9d9d9" stroke-width="0.7" stroke-dasharray="0.8 1.58"/>
<line x1="243.50" y1="216.50" x2="420.60" y2="216.50" stroke="#e6e6e6" stroke-width="0.7" stroke-dasharray="0.8 1.58"/>
<rect x="247.75" y="169.85" width="33.30" height="44.25" fill="#e99833" stroke="#e37e00" stroke-width="0.85"/>
<rect x="281.55" y="166.55" width="33.30" height="47.55" fill="#e99833" stroke="#e37e00" stroke-width="0.85"/>
<rect x="315.35" y="162.35" width="33.30" height="51.75" fill="#e99833" stroke="#e37e00" stroke-width="0.85"/>
<rect x="349.15" y="161.15" width="33.30" height="52.95" fill="#e99833" stroke="#e37e00" stroke-width="0.85"/>
<rect x="382.95" y="167.35" width="33.30" height="46.75" fill="#e99833" stroke="#e37e00" stroke-width="0.85"/>
<path d="M247.40 213.70H416.60" stroke="#e37e00" stroke-width="1.3" fill="none"/>
<path d="M264.40 166.60V172.20" stroke="#404040" stroke-width="0.5" fill="none"/>
<path d="M262.95 166.60H265.85M262.95 172.20H265.85" stroke="#404040" stroke-width="0.65" fill="none"/>
<path d="M298.20 163.60V169.20" stroke="#404040" stroke-width="0.5" fill="none"/>
<path d="M296.75 163.60H299.65M296.75 169.20H299.65" stroke="#404040" stroke-width="0.65" fill="none"/>
<path d="M332.00 157.20V166.30" stroke="#404040" stroke-width="0.5" fill="none"/>
<path d="M330.55 157.20H333.45M330.55 166.30H333.45" stroke="#404040" stroke-width="0.65" fill="none"/>
<path d="M365.80 155.60V165.50" stroke="#404040" stroke-width="0.5" fill="none"/>
<path d="M364.35 155.60H367.25M364.35 165.50H367.25" stroke="#404040" stroke-width="0.65" fill="none"/>
<path d="M399.60 163.60V170.40" stroke="#404040" stroke-width="0.5" fill="none"/>
<path d="M398.15 163.60H401.05M398.15 170.40H401.05" stroke="#404040" stroke-width="0.65" fill="none"/>
<line x1="243.00" y1="154.60" x2="243.00" y2="214.40" stroke="#b4b4b4" stroke-width="0.9"/>
<line x1="240.40" y1="154.60" x2="243.00" y2="154.60" stroke="#b4b4b4" stroke-width="0.9"/>
<text x="238.50" y="156.95" font-size="5.25" text-anchor="end">5.5</text>
<line x1="240.40" y1="164.57" x2="243.00" y2="164.57" stroke="#b4b4b4" stroke-width="0.9"/>
<text x="238.50" y="166.92" font-size="5.25" text-anchor="end">5</text>
<line x1="240.40" y1="174.53" x2="243.00" y2="174.53" stroke="#b4b4b4" stroke-width="0.9"/>
<text x="238.50" y="176.88" font-size="5.25" text-anchor="end">4.5</text>
<line x1="240.40" y1="184.50" x2="243.00" y2="184.50" stroke="#b4b4b4" stroke-width="0.9"/>
<text x="238.50" y="186.85" font-size="5.25" text-anchor="end">4</text>
<line x1="240.40" y1="194.47" x2="243.00" y2="194.47" stroke="#b4b4b4" stroke-width="0.9"/>
<text x="238.50" y="196.82" font-size="5.25" text-anchor="end">3.5</text>
<line x1="240.40" y1="204.43" x2="243.00" y2="204.43" stroke="#b4b4b4" stroke-width="0.9"/>
<text x="238.50" y="206.78" font-size="5.25" text-anchor="end">3</text>
<line x1="240.40" y1="214.40" x2="243.00" y2="214.40" stroke="#b4b4b4" stroke-width="0.9"/>
<text x="238.50" y="216.75" font-size="5.25" text-anchor="end">2.5</text>
<line x1="264.40" y1="218.50" x2="264.40" y2="221.60" stroke="#b4b4b4" stroke-width="0.9"/>
<text transform="translate(264.10 222.85) rotate(60)" x="0" y="1.95" font-size="5.6">Conservative Party</text>
<line x1="298.20" y1="218.50" x2="298.20" y2="221.60" stroke="#b4b4b4" stroke-width="0.9"/>
<text transform="translate(297.90 222.85) rotate(60)" x="0" y="1.95" font-size="5.6">Labour</text>
<line x1="332.00" y1="218.50" x2="332.00" y2="221.60" stroke="#b4b4b4" stroke-width="0.9"/>
<text transform="translate(331.70 222.85) rotate(60)" x="0" y="1.95" font-size="5.6">Liberal Democrats</text>
<line x1="365.80" y1="218.50" x2="365.80" y2="221.60" stroke="#b4b4b4" stroke-width="0.9"/>
<text transform="translate(365.50 222.85) rotate(60)" x="0" y="1.95" font-size="5.6">SNP</text>
<line x1="399.60" y1="218.50" x2="399.60" y2="221.60" stroke="#b4b4b4" stroke-width="0.9"/>
<text transform="translate(399.30 222.85) rotate(60)" x="0" y="1.95" font-size="5.6">Green Party</text>
<text transform="translate(224.40 184.50) rotate(-90)" x="0" y="0" font-size="6.9" text-anchor="middle">Policy Change Acceptance</text>
<text x="318.30" y="147.25" font-size="6.2" text-anchor="middle" style="stroke-width:0.13px">United Kingdom</text>
</g>
</g>
</svg>
</body></html>
